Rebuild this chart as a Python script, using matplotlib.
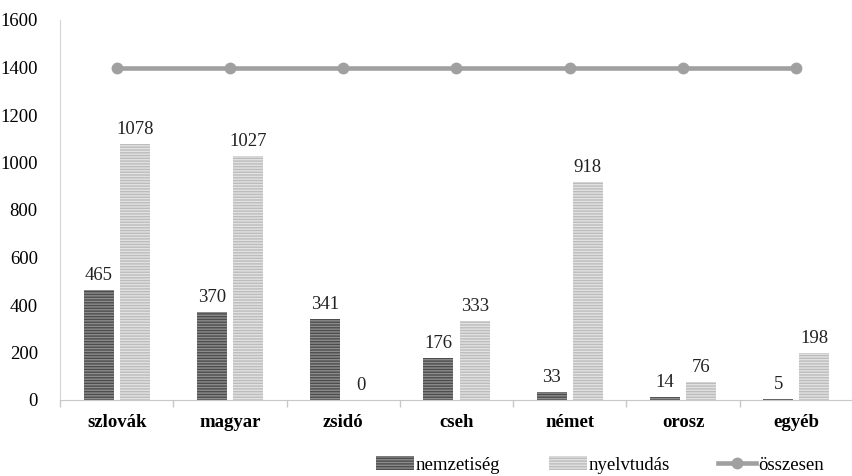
import numpy as np
import matplotlib.pyplot as plt

# categories and counts
categories = ['szlovák', 'magyar', 'zsidó', 'cseh', 'német', 'orosz', 'egyéb']
nemzetiseg = [465, 370, 341, 176, 33, 14, 5]
nyelvtudas = [1078, 1027, 0, 333, 918, 76, 198]
osszesen = [1400, 1400, 1400, 1400, 1400, 1400, 1400]

plt.rcParams['font.family'] = ['Liberation Serif', 'DejaVu Serif']
plt.rcParams['hatch.linewidth'] = 1.0

fig = plt.figure(figsize=(8.53, 4.76), dpi=100)
ax = fig.add_axes([60/853, 1 - 400/476, 793/853, 380/476])

x = np.arange(len(categories))
w = 0.265
off = 0.16

b1 = ax.bar(x - off, nemzetiseg, w, color='#4d4d4d', edgecolor='#8c8c8c',
            hatch='------', linewidth=0, label='nemzetiség')
b2 = ax.bar(x + off, nyelvtudas, w, color='#bcbcbc', edgecolor='#e2e2e2',
            hatch='------', linewidth=0, label='nyelvtudás')
ax.plot(x, osszesen, color='#a0a0a0', lw=3.3, marker='o', markersize=7.5,
        label='összesen')

# value labels
for xi, v in zip(x - off, nemzetiseg):
    ax.text(xi, v + 25, str(v), ha='center', va='bottom', fontsize=13.5, color='#222222')
for xi, v in zip(x + off, nyelvtudas):
    ax.text(xi, v + 25, str(v), ha='center', va='bottom', fontsize=13.5, color='#222222')

ax.set_xlim(-0.5, len(categories) - 0.5)
ax.set_ylim(0, 1600)
ax.set_yticks(range(0, 1601, 200))
ax.tick_params(axis='y', length=0, labelsize=13.5, pad=16)
ax.set_xticks(x)
ax.set_xticklabels(categories, fontsize=13.5, fontweight='bold')
ax.tick_params(axis='x', length=0, pad=10)
# small separators between categories
ax.set_xticks(np.arange(-0.5, len(categories)), minor=True)
ax.tick_params(axis='x', which='minor', length=5, color='#c8c8c8', width=1)

for s in ['top', 'right']:
    ax.spines[s].set_visible(False)
ax.spines['left'].set_color('#d4d4d4')
ax.spines['bottom'].set_color('#c8c8c8')

fig.legend(handles=[b1, b2, ax.lines[0]], loc='center', bbox_to_anchor=(600/853, 1 - 465/476),
           ncol=3, frameon=False, fontsize=13.5, handlelength=2.0, columnspacing=2.6,
           handletextpad=0.1)

fig.savefig('out.png', dpi=100)
